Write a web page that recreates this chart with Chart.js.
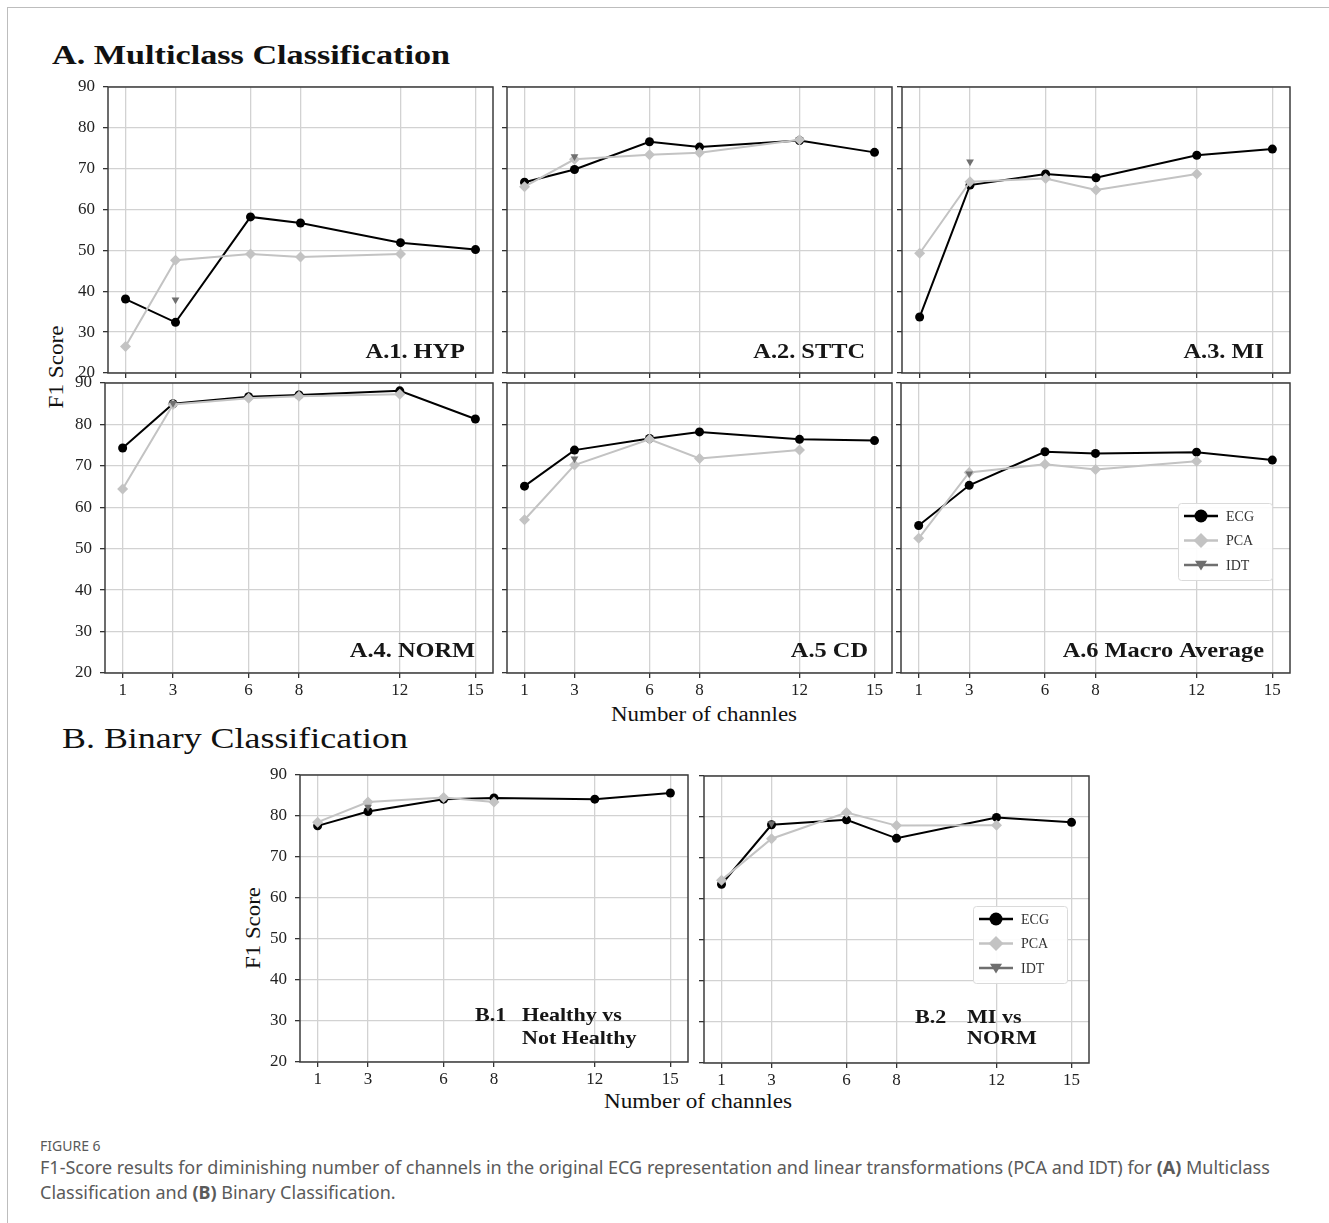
<!DOCTYPE html>
<html>
<head>
<meta charset="utf-8">
<script src="https://cdn.jsdelivr.net/npm/chart.js@4.4.1/dist/chart.umd.min.js"></script>
<style>
  html, body { margin: 0; padding: 0; background: #fff; }
  #page { position: relative; width: 1329px; height: 1223px; overflow: hidden; font-family: 'Liberation Serif', serif; color: #111; }
  #frame { position: absolute; left: 7px; top: 7px; right: -5px; bottom: -5px; border-top: 1px solid #bdbdbd; border-left: 1px solid #bdbdbd; }
  canvas { position: absolute; }
  .txt { position: absolute; white-space: nowrap; line-height: 1; transform-origin: 0 50%; }
  .rot { position: absolute; white-space: nowrap; line-height: 1; }
  .cap { position: absolute; left: 40px; white-space: nowrap; font-family: 'Noto Sans', sans-serif; color: #5a5a5a; line-height: 1; }
</style>
</head>
<body>
<div id="page">
  <div id="frame"></div>
  <div class="txt" id="titleA" style="left:52px; top:42px; font-size:27px; font-weight:bold;" data-w="398">A. Multiclass Classification</div>
  <div class="txt" id="titleB" style="left:62px; top:723px; font-size:30px;" data-w="346">B. Binary Classification</div>
  <div class="txt" id="xA" style="left:611px; top:704px; font-size:20px;" data-w="186">Number of channles</div>
  <div class="txt" id="xB" style="left:604px; top:1091px; font-size:20px;" data-w="188">Number of channles</div>
  <div class="rot" id="yA" style="left:56px; top:367px; font-size:20px;" data-w="83">F1 Score</div>
  <div class="rot" id="yB" style="left:253px; top:928px; font-size:20px;" data-w="82">F1 Score</div>
  <div class="cap" style="top:1139px; font-size:14px;">FIGURE 6</div>
  <div class="cap" style="top:1158px; font-size:18px;">F1-Score results for diminishing number of channels in the original ECG representation and linear transformations (PCA and IDT) for <b>(A)</b> Multiclass</div>
  <div class="cap" style="top:1183px; font-size:18px;">Classification and <b>(B)</b> Binary Classification.</div>
</div>
<script>
// number of channels (x axis)
const channels = [1, 3, 6, 8, 12, 15];
const yTicks = [20, 30, 40, 50, 60, 70, 80, 90];

// A.1 HYP
const hypECG = [38.1, 32.4, 58.2, 56.7, 51.9, 50.2];
const hypPCA = [26.5, 47.6, 49.1, 48.4, 49.1, null];
const hypIDT = [null, 37.9, null, null, null, null];
// A.2 STTC
const sttcECG = [66.7, 69.8, 76.6, 75.3, 76.9, 74.0];
const sttcPCA = [65.6, 72.3, 73.4, 73.9, 77.1, null];
const sttcIDT = [null, 73.0, null, null, null, null];
// A.3 MI
const miECG = [33.7, 66.0, 68.7, 67.8, 73.3, 74.8];
const miPCA = [49.3, 66.8, 67.6, 64.8, 68.7, null];
const miIDT = [null, 71.7, null, null, null, null];
// A.4 NORM
const normECG = [74.3, 85.0, 86.7, 87.1, 88.1, 81.3];
const normPCA = [64.4, 84.8, 86.3, 86.8, 87.3, null];
const normIDT = [null, 85.1, null, null, null, null];
// A.5 CD
const cdECG = [65.1, 73.8, 76.6, 78.2, 76.4, 76.1];
const cdPCA = [57.0, 70.2, 76.4, 71.8, 73.8, null];
const cdIDT = [null, 71.7, null, null, null, null];
// A.6 Macro Average
const macroECG = [55.6, 65.3, 73.4, 73.0, 73.3, 71.4];
const macroPCA = [52.5, 68.4, 70.4, 69.1, 71.1, null];
const macroIDT = [null, 68.1, null, null, null, null];
// B.1 Healthy vs Not Healthy
const healthyECG = [77.6, 81.1, 84.1, 84.4, 84.1, 85.6];
const healthyPCA = [78.5, 83.4, 84.5, 83.4, null, null];
const healthyIDT = [null, 82.2, null, null, null, null];
// B.2 MI vs NORM
const miNormECG = [63.6, 78.1, 79.3, 74.8, 79.9, 78.7];
const miNormPCA = [64.6, 74.7, 81.1, 77.9, 78.0, null];
const miNormIDT = [null, 78.4, null, null, null, null];

const seriesNames = ['ECG', 'PCA', 'IDT'];

const PAD_L = 46, PAD_T = 12, PAD_R = 12, PAD_B = 32;
const FONT = 'Liberation Serif';
Chart.defaults.font.family = FONT;

// stretch html labels to the width they take in the figure
document.querySelectorAll('.txt').forEach(el => {
  const w = el.getBoundingClientRect().width;
  el.style.transform = `scaleX(${el.dataset.w / w})`;
});
document.querySelectorAll('.rot').forEach(el => {
  const w = el.getBoundingClientRect().width;
  el.style.transform = `translate(-50%, -50%) rotate(-90deg) scaleX(${el.dataset.w / w})`;
});

function drawMarker(ctx, style, x, y, r) {
  ctx.beginPath();
  if (style === 'circle') {
    ctx.arc(x, y, r, 0, Math.PI * 2);
  } else if (style === 'diamond') {
    ctx.moveTo(x, y - r); ctx.lineTo(x + r, y); ctx.lineTo(x, y + r); ctx.lineTo(x - r, y);
  } else {
    ctx.moveTo(x - r, y - r * 0.7); ctx.lineTo(x + r, y - r * 0.7); ctx.lineTo(x, y + r * 0.9);
  }
  ctx.closePath();
  ctx.fill();
}

// full box round the plot area
const framePlugin = {
  id: 'frame',
  beforeDatasetsDraw(chart) {
    const { ctx, chartArea: a } = chart;
    ctx.save();
    ctx.strokeStyle = '#3c3c3c';
    ctx.lineWidth = 1.5;
    ctx.strokeRect(a.left, a.top, a.right - a.left, a.bottom - a.top);
    ctx.restore();
  }
};

// panel caption written inside the plot (latex font is wider, so stretch a bit)
const panelLabel = {
  id: 'panelLabel',
  afterDraw(chart, args, opts) {
    const { ctx, chartArea: a } = chart;
    const sx = 1.16;
    ctx.save();
    ctx.fillStyle = '#161616';
    ctx.textBaseline = 'middle';
    (opts.lines || []).forEach(l => {
      ctx.font = l.font;
      const w = ctx.measureText(l.text).width * sx;
      const x = l.right !== undefined ? a.right - l.right - w : a.left + l.left;
      ctx.save();
      ctx.translate(x, a.bottom - l.bottom);
      ctx.scale(sx, 1);
      ctx.textAlign = 'left';
      ctx.fillText(l.text, 0, 0);
      ctx.restore();
    });
    ctx.restore();
  }
};

// legend drawn inside the plot area
const insetLegend = {
  id: 'insetLegend',
  afterDraw(chart, args, opts) {
    if (!opts.show) return;
    const { ctx, chartArea: a } = chart;
    const x0 = a.right - opts.right - opts.width;
    const y0 = a.top + opts.top;
    ctx.save();
    ctx.fillStyle = 'rgba(255,255,255,0.92)';
    ctx.strokeStyle = '#dadada';
    ctx.lineWidth = 1;
    ctx.beginPath();
    ctx.roundRect(x0 + 0.5, y0 + 0.5, opts.width, opts.height, 3);
    ctx.fill();
    ctx.stroke();
    const styles = ['circle', 'diamond', 'tri'];
    const sizes = [6.5, 7.5, 6];
    chart.data.datasets.forEach((ds, i) => {
      const y = y0 + 13 + i * 24.5;
      ctx.strokeStyle = ds.borderColor;
      ctx.fillStyle = ds.borderColor;
      ctx.lineWidth = 2.5;
      ctx.beginPath();
      ctx.moveTo(x0 + 6, y); ctx.lineTo(x0 + 40, y);
      ctx.stroke();
      drawMarker(ctx, styles[i], x0 + 23, y, sizes[i]);
      ctx.fillStyle = '#333';
      ctx.font = '14px ' + FONT;
      ctx.textBaseline = 'middle';
      ctx.fillText(ds.label, x0 + 48, y + 1);
    });
    ctx.restore();
  }
};

const boldA = 'bold 21px ' + FONT;
const boldB = 'bold 19px ' + FONT;

const panels = [
  { area: [108, 87, 493, 373], ecg: hypECG, pca: hypPCA, idt: hypIDT, yl: true, xl: false,
    lines: [{ text: 'A.1. HYP', right: 28, bottom: 20, font: boldA }] },
  { area: [507, 87, 892, 373], ecg: sttcECG, pca: sttcPCA, idt: sttcIDT, yl: false, xl: false,
    lines: [{ text: 'A.2. STTC', right: 27, bottom: 20, font: boldA }] },
  { area: [902, 87, 1290, 373], ecg: miECG, pca: miPCA, idt: miIDT, yl: false, xl: false,
    lines: [{ text: 'A.3. MI', right: 26, bottom: 20, font: boldA }] },
  { area: [105, 383, 493, 673], ecg: normECG, pca: normPCA, idt: normIDT, yl: true, xl: true,
    lines: [{ text: 'A.4. NORM', right: 18, bottom: 21, font: boldA }] },
  { area: [507, 383, 892, 673], ecg: cdECG, pca: cdPCA, idt: cdIDT, yl: false, xl: true,
    lines: [{ text: 'A.5 CD', right: 24, bottom: 21, font: boldA }] },
  { area: [901, 383, 1290, 673], ecg: macroECG, pca: macroPCA, idt: macroIDT, yl: false, xl: true,
    lines: [{ text: 'A.6 Macro Average', right: 26, bottom: 21, font: boldA }],
    legend: { show: true, right: 18, top: 120, width: 94, height: 77 } },
  { area: [300, 775, 688, 1062], ecg: healthyECG, pca: healthyPCA, idt: healthyIDT, yl: true, xl: true,
    lines: [{ text: 'B.1', left: 175, bottom: 46, font: boldB },
            { text: 'Healthy vs', left: 222, bottom: 46, font: boldB },
            { text: 'Not Healthy', left: 222, bottom: 23, font: boldB }] },
  { area: [704, 776, 1089, 1063], ecg: miNormECG, pca: miNormPCA, idt: miNormIDT, yl: false, xl: true,
    lines: [{ text: 'B.2', left: 211, bottom: 45, font: boldB },
            { text: 'MI vs', left: 263, bottom: 45, font: boldB },
            { text: 'NORM', left: 263, bottom: 24, font: boldB }],
    legend: { show: true, right: 22, top: 130, width: 94, height: 77 } }
];

const toPoints = vals => channels.map((c, i) => ({ x: c, y: vals[i] }));

panels.forEach(p => {
  const [l, t, r, b] = p.area;
  const canvas = document.createElement('canvas');
  canvas.width = r - l + PAD_L + PAD_R;
  canvas.height = b - t + PAD_T + PAD_B;
  canvas.style.left = (l - PAD_L) + 'px';
  canvas.style.top = (t - PAD_T) + 'px';
  document.getElementById('page').appendChild(canvas);

  new Chart(canvas, {
    type: 'line',
    data: {
      datasets: [
        { label: seriesNames[0], data: toPoints(p.ecg), borderColor: '#000', backgroundColor: '#000',
          borderWidth: 2, pointStyle: 'circle', pointRadius: 4.5, pointBorderWidth: 0, order: 3 },
        { label: seriesNames[1], data: toPoints(p.pca), borderColor: '#c3c3c3', backgroundColor: '#c3c3c3',
          borderWidth: 2, pointStyle: 'rectRot', pointRadius: 5.5, pointBorderWidth: 0, order: 2 },
        { label: seriesNames[2], data: toPoints(p.idt), borderColor: '#6f6f6f', backgroundColor: '#6f6f6f',
          borderWidth: 2, pointStyle: 'triangle', pointRotation: 180, pointRadius: 4.5, pointBorderWidth: 0, order: 1 }
      ]
    },
    options: {
      responsive: false,
      devicePixelRatio: 1,
      animation: false,
      layout: { padding: { left: 0, top: PAD_T, right: PAD_R, bottom: 0 } },
      plugins: {
        legend: { display: false },
        tooltip: { enabled: false },
        panelLabel: { lines: p.lines },
        insetLegend: p.legend || { show: false }
      },
      scales: {
        x: {
          type: 'linear', min: 0.3, max: 15.7,
          afterBuildTicks: s => { s.ticks = channels.map(v => ({ value: v })); },
          afterFit: s => { s.height = PAD_B; s.paddingLeft = 0; s.paddingRight = 0; },
          grid: { color: '#d2d2d2', lineWidth: 1.3, tickColor: '#333', tickLength: 5, drawTicks: true },
          border: { display: false },
          ticks: { display: p.xl, color: '#222', font: { family: FONT, size: 17 }, padding: 2, maxRotation: 0, autoSkip: false }
        },
        y: {
          type: 'linear', min: 20, max: 90,
          afterBuildTicks: s => { s.ticks = yTicks.map(v => ({ value: v })); },
          afterFit: s => { s.width = PAD_L; s.paddingTop = 0; s.paddingBottom = 0; },
          grid: { color: '#d2d2d2', lineWidth: 1.3, tickColor: '#333', tickLength: 5, drawTicks: true },
          border: { display: false },
          ticks: { display: p.yl, color: '#222', font: { family: FONT, size: 17 }, padding: 8 }
        }
      }
    },
    plugins: [framePlugin, panelLabel, insetLegend]
  });
});
</script>
</body>
</html>
